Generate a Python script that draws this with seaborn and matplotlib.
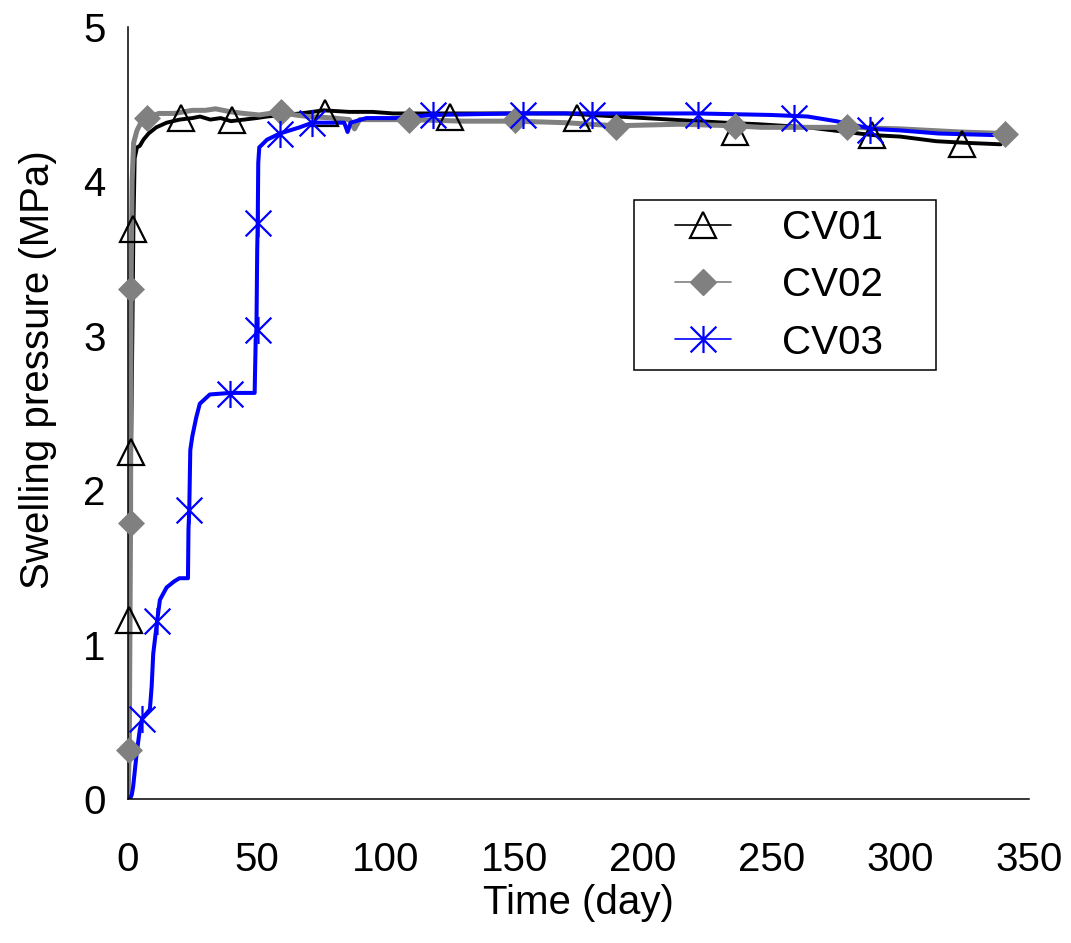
import numpy as np
import seaborn as sns
import matplotlib.pyplot as plt
from matplotlib.lines import Line2D
from matplotlib.legend_handler import HandlerLine2D
from matplotlib.path import Path

sns.set_style('white')
plt.rcParams['font.family'] = ['Liberation Sans', 'DejaVu Sans']
plt.rcParams['axes.labelcolor'] = 'black'
plt.rcParams['text.color'] = 'black'

# CV01 curve and marker points
cv01_t = [0, 0.4, 0.8, 1.2, 1.7, 2.1, 2.6, 3.5, 4.6, 6, 8, 11, 15, 20, 25, 28, 32, 36, 40, 45,
          50, 54, 60, 67, 76, 86, 95, 103, 115, 125, 140, 155, 170, 180, 190, 232, 245, 264,
          289, 300, 314, 325, 339]
cv01_p = [0, 1.16, 1.80, 2.25, 3.00, 3.69, 4.15, 4.22, 4.23, 4.27, 4.31, 4.35, 4.38, 4.40, 4.41,
          4.42, 4.40, 4.41, 4.39, 4.40, 4.41, 4.42, 4.43, 4.44, 4.46, 4.45, 4.45, 4.44, 4.44,
          4.44, 4.44, 4.44, 4.44, 4.43, 4.42, 4.38, 4.37, 4.35, 4.30, 4.29, 4.26, 4.25, 4.24]
cv01_mt = [0.4, 1.2, 2.1, 20.5, 40.5, 76.7, 125.2, 174.5, 235.7, 288.9, 323.8]
cv01_mp = [1.16, 2.25, 3.69, 4.41, 4.40, 4.44, 4.42, 4.41, 4.32, 4.30, 4.24]

# CV02
cv02_t = [0, 0.5, 1.0, 1.2, 1.6, 2.2, 3.5, 5, 7.2, 12, 18, 25, 30, 34, 40, 45, 51, 55, 59.6, 65,
          70, 80, 86, 88, 90, 100, 109.3, 130, 150.4, 170, 189.4, 214, 235.7, 246, 279.2, 300,
          323, 340.6]
cv02_p = [0, 0.32, 1.79, 3.30, 4.00, 4.25, 4.33, 4.38, 4.41, 4.44, 4.44, 4.46, 4.46, 4.47, 4.45,
          4.44, 4.43, 4.44, 4.45, 4.43, 4.42, 4.41, 4.40, 4.34, 4.40, 4.40, 4.40, 4.39, 4.39,
          4.38, 4.36, 4.37, 4.36, 4.35, 4.35, 4.34, 4.32, 4.31]
cv02_mt = [0.5, 1.0, 1.2, 7.2, 59.6, 109.3, 150.4, 189.4, 235.7, 279.2, 340.6]
cv02_mp = [0.32, 1.79, 3.30, 4.41, 4.45, 4.40, 4.40, 4.35, 4.36, 4.35, 4.31]

# CV03
cv03_t = [0.8, 1.5, 2, 3.4, 4.6, 5.5, 7, 8.5, 9.2, 9.8, 11.3, 12.4, 15, 18, 20, 23.3, 23.5, 23.8,
          24.2, 25, 26.5, 27.9, 31.8, 39.8, 49.2, 49.6, 49.9, 50.2, 50.4, 50.6, 51, 54, 59,
          66.7, 71.6, 79.5, 84, 85.3, 86.5, 92.6, 104, 118, 150, 200, 221, 250, 264, 275, 289,
          300, 315, 336]
cv03_p = [0, 0.03, 0.08, 0.30, 0.45, 0.52, 0.55, 0.58, 0.73, 0.94, 1.15, 1.29, 1.37, 1.41, 1.43,
          1.43, 1.75, 1.87, 2.26, 2.35, 2.47, 2.56, 2.62, 2.63, 2.63, 2.97, 3.05, 3.56, 3.73,
          4.12, 4.22, 4.27, 4.31, 4.35, 4.38, 4.38, 4.38, 4.32, 4.38, 4.41, 4.41, 4.43, 4.44,
          4.44, 4.44, 4.43, 4.42, 4.39, 4.34, 4.33, 4.31, 4.30]
cv03_mt = [5.5, 11.3, 23.8, 39.8, 50.4, 50.4, 59, 71.6, 118.4, 153.5, 180.3, 221.4, 258.9, 288.2]
cv03_mp = [0.52, 1.15, 1.87, 2.62, 3.04, 3.73, 4.31, 4.38, 4.43, 4.43, 4.43, 4.43, 4.41, 4.33]

gray = '#808080'
blue = '#0000FF'
asterisk = Path([(0, -1), (0, 1), (-0.95, -0.95), (0.95, 0.95), (-0.95, 0.95), (0.95, -0.95)],
                [Path.MOVETO, Path.LINETO] * 3)

fig = plt.figure(figsize=(10.71, 9.43), dpi=100)
ax = fig.add_axes([0.1195, 0.1527, 0.8413, 0.8187])

sns.lineplot(x=cv01_t, y=cv01_p, ax=ax, color='black', lw=2.8, sort=False, estimator=None)
sns.lineplot(x=cv02_t, y=cv02_p, ax=ax, color=gray, lw=3.6, sort=False, estimator=None)
sns.lineplot(x=cv03_t, y=cv03_p, ax=ax, color=blue, lw=2.9, sort=False, estimator=None)

sns.lineplot(x=cv01_mt, y=cv01_mp, ax=ax, linestyle='none', marker='^', ms=18.5, mfc='none',
             mec='black', mew=1.6, sort=False, estimator=None, clip_on=False, zorder=5)
sns.lineplot(x=cv02_mt, y=cv02_mp, ax=ax, linestyle='none', marker='D', ms=13, mfc=gray,
             mec=gray, mew=0.5, sort=False, estimator=None, clip_on=False, zorder=5)
sns.lineplot(x=cv03_mt, y=cv03_mp, ax=ax, linestyle='none', marker=asterisk, ms=19.5,
             mfc='none', mec=blue, mew=1.6, sort=False, estimator=None, clip_on=False, zorder=6)

ax.set_xlim(0, 350)
ax.set_ylim(0, 5)
ax.set_xticks(np.arange(0, 351, 50))
ax.set_yticks(np.arange(0, 5.01, 0.5))
ax.set_yticklabels([str(int(v)) if v % 1 == 0 else '' for v in np.arange(0, 5.01, 0.5)])
ax.tick_params(direction='in', length=6, width=1.1, labelsize=29, colors='black')
ax.tick_params(axis='x', pad=30)
ax.tick_params(axis='y', pad=16)
for s in ['top', 'right']:
    ax.spines[s].set_visible(False)
for s in ['left', 'bottom']:
    ax.spines[s].set_color('black')
    ax.spines[s].set_linewidth(1.1)

ax.set_xlabel('Time (day)', fontsize=29, labelpad=4)
ax.set_ylabel('Swelling pressure (MPa)', fontsize=29)
ax.yaxis.set_label_coords(-0.079, 0.556)

handles = [
    Line2D([], [], color='black', lw=1.2, marker='^', ms=18.5, mfc='none', mec='black', mew=1.6),
    Line2D([], [], color=gray, lw=1.2, marker='D', ms=13, mfc=gray, mec=gray),
    Line2D([], [], color=blue, lw=1.2, marker=asterisk, ms=19.5, mfc='none', mec=blue, mew=1.6),
]
leg = ax.legend(handles, ['CV01    ', 'CV02    ', 'CV03    '], loc='upper left',
                bbox_to_anchor=(634 / 1071, 1 - 200 / 943), bbox_transform=fig.transFigure,
                fontsize=29, frameon=True, fancybox=False, framealpha=1, edgecolor='black',
                handlelength=2.2, handletextpad=1.25, labelspacing=0.48, borderpad=0.22,
                borderaxespad=0, handler_map={Line2D: HandlerLine2D(xpad=0.8)})
leg.get_frame().set_linewidth(1.1)

fig.savefig('out.png', dpi=100)
